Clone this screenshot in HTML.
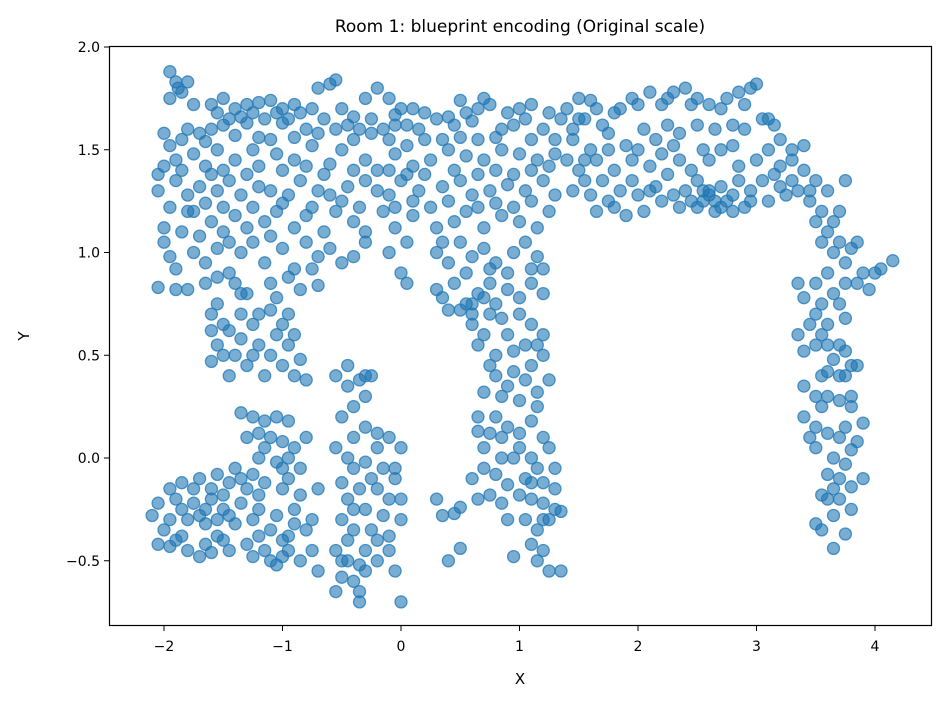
<!DOCTYPE html>
<html><head><meta charset="utf-8">
<style>
html,body{margin:0;padding:0;background:#fff;}
svg{display:block;font-family:"DejaVu Sans","Liberation Sans",sans-serif;}
</style></head>
<body>
<svg id="chart" width="945" height="704" viewBox="0 0 945 704" xmlns="http://www.w3.org/2000/svg">
<rect x="0" y="0" width="945" height="704" fill="#fff"/>
<text x="520" y="32" font-size="17" text-anchor="middle" fill="#000">Room 1: blueprint encoding (Original scale)</text>
<g id="points"></g>
<rect x="109.5" y="46.5" width="822" height="579" fill="none" stroke="#000" stroke-width="1.2"/>
<g id="xticks"></g>
<g id="yticks"></g>
<text x="520" y="684" font-size="15" text-anchor="middle">X</text>
<text x="29" y="336" font-size="15" text-anchor="middle" transform="rotate(-90 29 336)">Y</text>
</svg>
<script>
const xTicks = [-2,-1,0,1,2,3,4];
const yTicks = [-0.5,0.0,0.5,1.0,1.5,2.0];
const yTickLabels = ["\u22120.5","0.0","0.5","1.0","1.5","2.0"];
const xTickLabels = ["\u22122","\u22121","0","1","2","3","4"];
const xs = [];
const ys = [];
const pts = [
[-1.95,1.88],[-1.9,1.83],[-1.8,1.83],[-1.85,1.78],[-1.95,1.75],[-1.6,1.72],[-1.5,1.75],[-1.4,1.7],[-1.3,1.72],[-1.2,1.73],[-1.1,1.74],[-1.0,1.7],[-0.9,1.72],[-0.7,1.8],[-0.6,1.82],[-0.55,1.84],[-0.3,1.75],[-0.2,1.8],[-0.1,1.75],[0.0,1.7],[0.1,1.7],[0.5,1.74],[0.7,1.75],[0.75,1.72],[1.0,1.7],[1.1,1.72],[1.5,1.75],[1.6,1.74],
[-2.0,1.58],[-1.8,1.6],[-1.7,1.58],[-1.6,1.6],[-1.5,1.62],[-1.45,1.65],[-1.3,1.63],[-1.15,1.65],[-1.0,1.63],[-0.95,1.65],[-0.8,1.6],[-0.65,1.65],[-0.55,1.6],[-0.45,1.62],[-0.35,1.6],[-0.25,1.58],[-0.15,1.6],[-0.05,1.62],[0.15,1.6],[0.3,1.65],[0.45,1.62],[0.6,1.64],[0.85,1.6],[0.95,1.62],[1.2,1.6],[1.35,1.65],[1.45,1.6],
[-2.0,1.42],[-1.9,1.45],[-1.75,1.48],[-1.65,1.42],[-1.55,1.5],[-1.4,1.45],[-1.25,1.5],[-1.2,1.42],[-1.05,1.48],[-0.9,1.45],[-0.75,1.52],[-0.6,1.43],[-0.5,1.5],[-0.3,1.45],[-0.2,1.4],[-0.05,1.48],[0.1,1.42],[0.25,1.45],[0.4,1.5],[0.55,1.47],[0.7,1.45],[0.85,1.5],[1.0,1.48],[1.15,1.45],[1.3,1.48],[1.4,1.45],
[-2.05,1.3],[-1.9,1.35],[-1.8,1.28],[-1.7,1.32],[-1.55,1.3],[-1.45,1.35],[-1.35,1.28],[-1.2,1.32],[-1.1,1.3],[-0.95,1.28],[-0.85,1.35],[-0.7,1.3],[-0.6,1.28],[-0.45,1.32],[-0.3,1.35],[-0.2,1.3],[-0.1,1.28],[0.0,1.35],[0.15,1.3],[0.35,1.32],[0.5,1.35],[0.6,1.28],[0.75,1.3],[0.9,1.33],[1.05,1.3],[1.2,1.35],[1.3,1.28],
[-2.0,1.12],[-1.85,1.1],[-1.75,1.2],[-1.6,1.15],[-1.5,1.1],[-1.4,1.18],[-1.3,1.12],[-1.15,1.15],[-1.05,1.2],[-0.9,1.12],[-0.8,1.18],[-0.65,1.1],[-0.55,1.2],[-0.4,1.15],[-0.3,1.1],[-0.15,1.2],[-0.05,1.12],[0.1,1.18],[0.3,1.12],[0.45,1.15],[0.55,1.2],[0.7,1.12],[0.85,1.18],[1.0,1.15],[1.15,1.12],[1.25,1.2],
[-2.0,1.05],[-1.9,0.92],[-1.75,1.0],[-1.65,0.95],[-1.55,1.02],[-1.45,0.9],[-1.35,1.0],[-1.15,0.95],[-1.0,1.02],[-0.9,0.92],[-0.8,1.05],[-0.7,0.98],[-0.6,1.02],[-0.5,0.95],[-0.3,1.05],[-0.1,1.0],[0.0,0.9],[0.05,0.85],[0.3,1.0],[0.4,0.95],[0.5,1.05],[0.6,0.98],[0.7,1.02],[0.8,0.95],[0.95,1.0],[1.05,1.05],[1.15,0.98],[1.2,0.92],
[-2.05,0.83],[-1.9,0.82],[-1.8,0.82],[-1.65,0.85],[-1.55,0.88],[-1.4,0.85],[-1.1,0.85],[-0.95,0.88],[-0.85,0.82],[-0.7,0.84],[0.3,0.82],[0.35,0.78],[0.45,0.85],[0.55,0.75],[0.65,0.8],[0.75,0.85],[0.8,0.75],[0.9,0.82],[1.0,0.78],[1.1,0.85],[1.2,0.8],
[1.4,1.7],[1.55,1.65],[1.7,1.62],[1.85,1.7],[1.95,1.75],[2.1,1.78],[2.2,1.72],[2.3,1.78],[2.4,1.8],[2.5,1.75],[2.6,1.72],[2.75,1.75],[2.85,1.78],[2.95,1.8],[3.0,1.82],[1.45,1.55],[1.6,1.5],[1.75,1.58],[1.9,1.52],[2.05,1.6],[2.15,1.55],[2.25,1.62],[2.35,1.58],[2.5,1.62],[2.65,1.6],[2.8,1.62],[2.9,1.6],[3.05,1.65],[3.15,1.62],[3.2,1.55],[3.3,1.5],[1.5,1.4],[1.65,1.45],[1.8,1.4],[1.95,1.45],[2.1,1.42],[2.2,1.48],[2.35,1.45],[2.45,1.4],[2.6,1.45],[2.7,1.5],[2.85,1.42],[3.0,1.45],[3.2,1.42],[3.3,1.45],[1.45,1.3],[1.6,1.28],[1.7,1.35],[1.85,1.3],[2.0,1.28],[2.15,1.32],[2.3,1.28],[2.4,1.3],[2.5,1.35],[2.6,1.3],[2.7,1.32],[2.8,1.28],[2.95,1.3],[3.05,1.35],[3.2,1.32],[3.35,1.3],[1.65,1.2],[1.8,1.22],[1.9,1.18],[2.05,1.2],[2.2,1.25],[2.35,1.22],[2.55,1.25],[2.65,1.2],[2.75,1.25],[2.9,1.22],[3.1,1.25],[3.25,1.28],
[3.4,1.4],[3.5,1.35],[3.45,1.25],[3.55,1.2],[3.6,1.3],[3.5,1.15],[3.6,1.1],[3.7,1.2],[3.75,1.35],[3.7,1.05],[3.65,1.0],[3.8,1.02],[3.85,1.05],[3.75,0.95],[3.9,0.9],[4.0,0.9],[4.05,0.92],[4.15,0.96],[3.85,0.85],[3.95,0.82],
[3.35,0.85],[3.4,0.78],[3.5,0.7],[3.55,0.75],[3.65,0.8],[3.6,0.65],[3.7,0.75],[3.75,0.68],[3.55,0.6],[3.35,0.6],[3.4,0.52],[3.5,0.55],[3.7,0.55],[3.65,0.48],[3.75,0.52],[3.8,0.45],[3.85,0.45],[3.6,0.42],[3.7,0.4],[3.75,0.4],[3.4,0.35],[3.5,0.3],[3.6,0.3],[3.55,0.25],[3.7,0.28],[3.8,0.25],[3.9,0.17],[3.4,0.2],[3.5,0.15],[3.6,0.12],[3.7,0.1],[3.85,0.08],[3.5,0.05],[3.65,0.0],[3.75,-0.03],[3.8,0.04],[3.6,-0.08],[3.7,-0.1],[3.55,-0.18],[3.65,-0.15],[3.8,-0.14],[3.9,-0.1],[3.5,-0.32],[3.55,-0.35],[3.65,-0.28],[3.75,-0.37],[3.65,-0.44],[3.7,-0.2],
[0.6,0.65],[0.75,0.7],[0.85,0.68],[1.0,0.7],[1.1,0.65],[1.2,0.6],[0.65,0.55],[0.8,0.5],[0.95,0.52],[1.05,0.55],[1.2,0.5],[0.8,0.4],[0.95,0.42],[1.05,0.38],[1.25,0.38],[0.7,0.32],[0.85,0.3],[1.0,0.28],[1.15,0.32],[0.65,0.2],[0.8,0.2],[0.9,0.15],[1.1,0.18],[0.65,0.13],[0.85,0.1],[1.0,0.12],[1.2,0.1],[0.7,0.05],[0.85,0.0],[1.0,0.05],[1.1,0.0],[1.25,0.05],[0.6,-0.1],[0.8,-0.08],[0.9,-0.13],[1.05,-0.1],[1.2,-0.12],[1.3,-0.15],[0.65,-0.2],[0.75,-0.18],[0.85,-0.22],[1.0,-0.18],[1.1,-0.2],[1.2,-0.22],[1.3,-0.25],[1.05,-0.3],[1.15,-0.35],[1.25,-0.3],[1.35,-0.26],[0.95,-0.48],[1.15,-0.5],[1.25,-0.55],[1.35,-0.55],[1.2,-0.45],[0.3,-0.2],[0.35,-0.28],[0.45,-0.27],[0.5,-0.24],[0.5,-0.44],[0.4,-0.5],[0.5,0.72],[0.6,0.75],
[-1.6,0.7],[-1.6,0.62],[-1.55,0.55],[-1.6,0.47],[-1.45,0.62],[-1.35,0.7],[-1.35,0.58],[-1.4,0.5],[-1.25,0.65],[-1.2,0.55],[-1.3,0.45],[-1.45,0.4],[-1.1,0.72],[-1.05,0.6],[-1.1,0.5],[-1.15,0.4],[-1.0,0.45],[-0.95,0.55],[-0.9,0.4],[-0.85,0.48],[-0.8,0.38],[-1.0,0.65],[-1.35,0.8],[-1.05,0.78],
[-0.55,0.4],[-0.45,0.45],[-0.35,0.38],[-0.25,0.4],[-0.3,0.3],[-0.4,0.25],[-0.5,0.2],[-0.3,0.15],[-0.4,0.1],[-0.2,0.12],[-0.1,0.1],[0.0,0.05],[-0.55,0.05],[-0.45,0.0],[-0.3,-0.02],[-0.15,-0.05],[-0.05,-0.1],[-0.5,-0.12],[-0.35,-0.15],[-0.2,-0.15],[-0.1,-0.2],[-0.45,-0.2],[-0.3,-0.25],[-0.15,-0.28],[0.0,-0.2],[-0.5,-0.3],[-0.4,-0.35],[-0.25,-0.35],[-0.1,-0.38],[0.0,-0.3],[-0.55,-0.45],[-0.45,-0.5],[-0.35,-0.52],[-0.2,-0.5],[-0.1,-0.45],[-0.5,-0.58],[-0.4,-0.6],[-0.3,-0.55],[-0.55,-0.65],[-0.35,-0.65],[-0.35,-0.7],[0.0,-0.7],[-0.05,-0.55],
[-1.35,0.22],[-1.25,0.2],[-1.15,0.18],[-1.05,0.2],[-0.95,0.18],[-1.3,0.1],[-1.15,0.05],[-1.0,0.08],[-0.9,0.05],[-0.8,0.1],[-1.2,0.0],[-1.05,-0.02],[-0.95,0.0],[-0.85,-0.05],[-1.25,-0.08],[-1.4,-0.05],[-1.55,-0.08],[-1.7,-0.1],[-1.85,-0.12],[-1.95,-0.15],[-1.6,-0.15],[-1.45,-0.12],[-1.3,-0.15],[-1.15,-0.12],[-1.0,-0.15],[-0.85,-0.18],[-0.7,-0.15],[-2.05,-0.22],[-1.9,-0.2],[-1.75,-0.22],[-1.6,-0.2],[-1.5,-0.25],[-1.35,-0.22],[-1.2,-0.25],[-1.05,-0.28],[-0.9,-0.25],[-0.75,-0.3],[-2.1,-0.28],[-1.95,-0.3],[-1.8,-0.3],[-1.7,-0.28],[-1.55,-0.3],[-1.4,-0.32],[-1.25,-0.3],[-1.1,-0.35],[-0.95,-0.38],[-0.8,-0.35],[-2.05,-0.42],[-1.9,-0.4],[-1.8,-0.45],[-1.65,-0.42],[-1.55,-0.38],[-1.45,-0.45],[-1.3,-0.42],[-1.15,-0.45],[-1.0,-0.48],[-0.85,-0.5],[-0.75,-0.45],[-1.95,-0.43],[-1.7,-0.48],[-1.6,-0.46],[-1.1,-0.5],[-1.05,-0.52],[-0.7,-0.55],
[-1.88,1.8],[-1.75,1.72],[-1.55,1.68],[-1.35,1.66],[-1.25,1.68],[-1.05,1.68],[-0.85,1.68],[-0.75,1.7],[-0.5,1.7],[-0.4,1.66],[-0.25,1.65],[-0.05,1.67],[0.05,1.62],[0.2,1.68],[0.4,1.66],[0.55,1.68],[0.65,1.7],[0.9,1.68],[1.05,1.65],[1.25,1.68],
[-1.95,1.52],[-1.85,1.55],[-1.65,1.54],[-1.4,1.57],[-1.2,1.56],[-1.1,1.55],[-0.9,1.56],[-0.7,1.58],[-0.4,1.55],[-0.1,1.55],[0.05,1.52],[0.2,1.55],[0.35,1.55],[0.5,1.56],[0.65,1.55],[0.8,1.56],[1.1,1.55],[1.3,1.55],
[-2.05,1.38],[-1.85,1.4],[-1.6,1.38],[-1.5,1.4],[-1.3,1.38],[-1.0,1.4],[-0.8,1.42],[-0.65,1.38],[-0.4,1.4],[-0.1,1.4],[0.05,1.38],[0.2,1.38],[0.45,1.4],[0.65,1.38],[0.8,1.4],[0.95,1.38],[1.1,1.4],[1.25,1.42],
[-1.95,1.22],[-1.8,1.2],[-1.65,1.24],[-1.5,1.22],[-1.25,1.22],[-1.0,1.24],[-0.75,1.22],[-0.5,1.25],[-0.35,1.22],[-0.05,1.22],[0.1,1.25],[0.25,1.22],[0.4,1.25],[0.65,1.22],[0.8,1.24],[0.95,1.22],[1.1,1.25],
[-1.95,0.98],[-1.7,1.08],[-1.45,1.05],[-1.25,1.05],[-1.1,1.08],[-0.75,0.92],[-0.4,0.98],[0.05,1.05],[0.35,1.05],[0.55,0.9],[0.75,0.92],[0.9,0.9],[1.1,0.92],[0.4,0.72],[0.6,0.7],[0.7,0.78],
[1.5,1.65],[1.65,1.7],[1.8,1.68],[2.0,1.72],[2.25,1.75],[2.45,1.72],[2.7,1.7],[2.9,1.72],[3.1,1.65],[1.55,1.45],[1.75,1.5],[2.0,1.5],[2.3,1.52],[2.55,1.5],[2.8,1.52],[3.1,1.5],[3.4,1.52],[1.55,1.35],[1.75,1.25],[1.95,1.35],[2.1,1.3],[2.25,1.38],[2.45,1.25],[2.55,1.3],[2.65,1.25],[2.85,1.35],[2.95,1.25],[3.15,1.38],[3.3,1.35],[2.5,1.22],[2.6,1.28],[2.7,1.22],[2.8,1.2],
[3.45,1.3],[3.55,1.05],[3.65,1.15],[3.6,0.9],[3.75,0.85],[3.5,0.85],[3.45,0.65],[3.6,0.55],[3.8,0.3],[3.55,0.4],[3.45,0.1],[3.75,0.15],[3.6,-0.2],[3.8,-0.25],
[0.7,0.6],[0.9,0.6],[1.15,0.55],[0.75,0.45],[1.1,0.45],[0.9,0.35],[1.15,0.25],[0.75,0.12],[0.95,0.0],[1.15,-0.05],[0.7,-0.05],[0.9,-0.3],[1.1,-0.12],[1.3,-0.05],[1.2,-0.3],[1.1,-0.42],
[-1.5,0.65],[-1.5,0.5],[-1.25,0.5],[-1.2,0.7],[-0.95,0.7],[-0.9,0.6],[-1.3,0.8],[-1.55,0.75],
[-0.45,0.35],[-0.3,0.4],[-0.2,0.05],[-0.4,-0.05],[-0.25,-0.1],[-0.05,-0.05],[-0.4,-0.25],[-0.2,-0.4],[-0.3,-0.45],[-0.45,-0.4],[-0.5,-0.5],
[-1.2,0.12],[-1.1,0.1],[-1.0,-0.05],[-1.35,-0.1],[-1.75,-0.15],[-1.5,-0.18],[-1.2,-0.18],[-0.95,-0.1],[-1.85,-0.25],[-1.65,-0.32],[-1.45,-0.28],[-1.2,-0.38],[-0.9,-0.32],[-1.85,-0.38],[-1.5,-0.4],[-1.25,-0.48],[-0.95,-0.45],[-2.0,-0.35],[-1.65,-0.25],[-1.0,-0.4]
];
pts.forEach(p=>{xs.push(p[0]);ys.push(p[1]);});

const NS="http://www.w3.org/2000/svg";
function sx(v){return 401 + v*118.5;}
function sy(v){return 458 - v*205.5;}
const gp=document.getElementById('points');
for(let i=0;i<xs.length;i++){
  const c=document.createElementNS(NS,'circle');
  c.setAttribute('cx',sx(xs[i]).toFixed(1));
  c.setAttribute('cy',sy(ys[i]).toFixed(1));
  c.setAttribute('r','6');
  c.setAttribute('fill','rgba(31,119,180,0.6)');
  c.setAttribute('stroke','rgba(31,119,180,0.75)');
  c.setAttribute('stroke-width','1.3');
  
  
  gp.appendChild(c);
}
const gx=document.getElementById('xticks');
xTicks.forEach((t,i)=>{
  const x=sx(t);
  const l=document.createElementNS(NS,'line');
  l.setAttribute('x1',x);l.setAttribute('x2',x);l.setAttribute('y1',626);l.setAttribute('y2',631);
  l.setAttribute('stroke','#000');
  
  
  gx.appendChild(l);
  const tx=document.createElementNS(NS,'text');
  tx.setAttribute('x',x);tx.setAttribute('y',651);tx.setAttribute('font-size','14');tx.setAttribute('text-anchor','middle');
  tx.textContent=xTickLabels[i];
  
  
  gx.appendChild(tx);
});
const gy=document.getElementById('yticks');
yTicks.forEach((t,i)=>{
  const y=sy(t);
  const l=document.createElementNS(NS,'line');
  l.setAttribute('x1',104);l.setAttribute('x2',109);l.setAttribute('y1',y);l.setAttribute('y2',y);
  l.setAttribute('stroke','#000');
  
  
  gy.appendChild(l);
  const tx=document.createElementNS(NS,'text');
  tx.setAttribute('x',100);tx.setAttribute('y',y+5);tx.setAttribute('font-size','14');tx.setAttribute('text-anchor','end');
  tx.textContent=yTickLabels[i];
  
  
  gy.appendChild(tx);
});
</script>
</body></html>
